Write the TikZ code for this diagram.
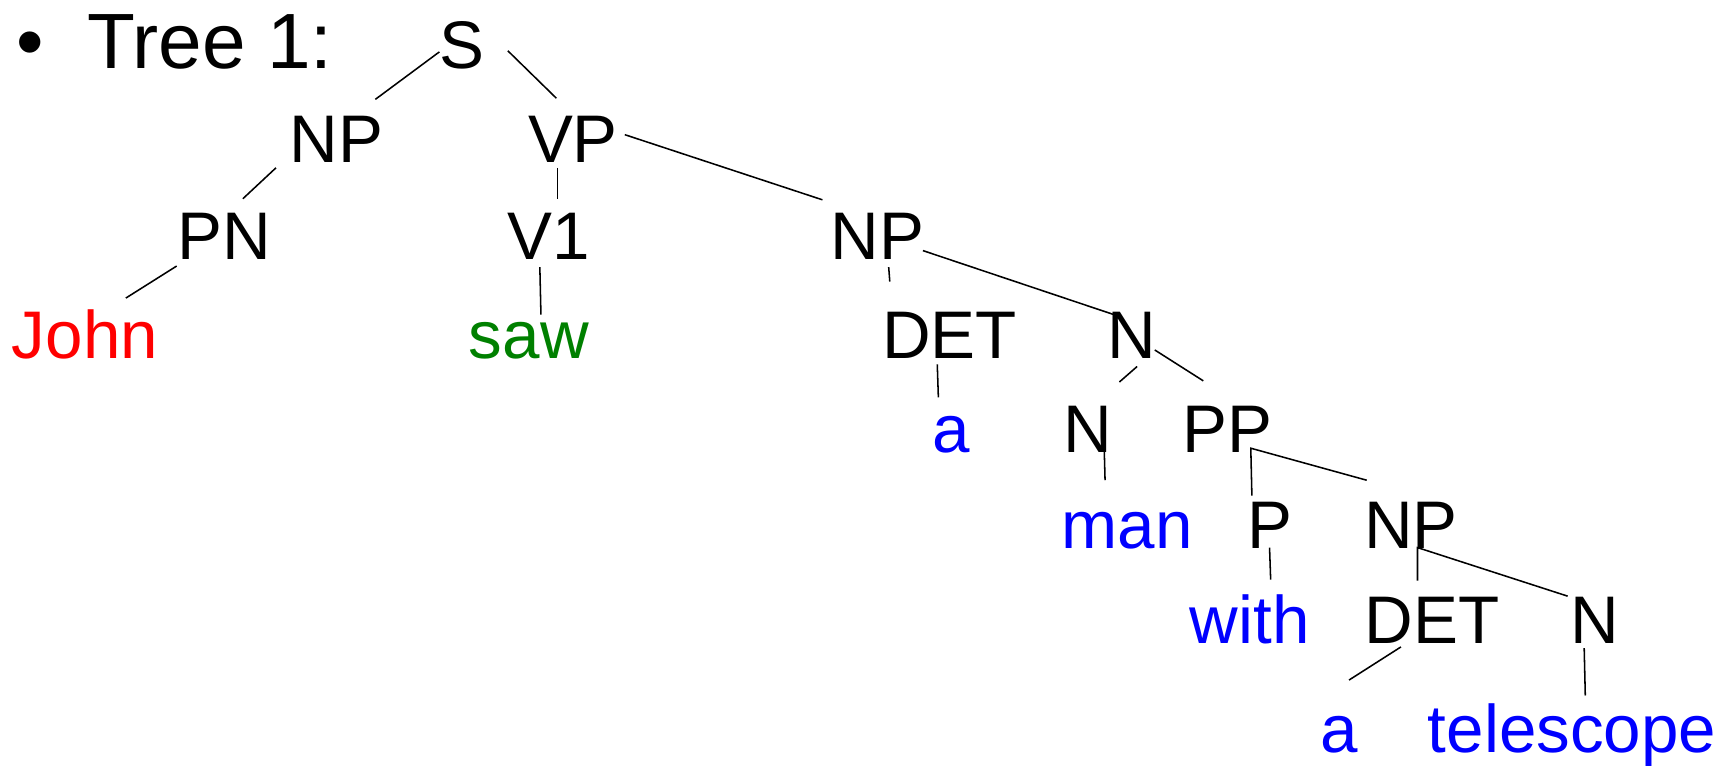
\documentclass[tikz,border=0pt]{standalone}
\usepackage{fontspec}
\setmainfont{Liberation Sans}
\definecolor{wred}{RGB}{255,0,0}
\definecolor{wgreen}{RGB}{0,128,0}
\definecolor{wblue}{RGB}{0,0,255}
\begin{document}
\begin{tikzpicture}[x=1pt,y=-1pt,
  cat/.style={anchor=base,inner sep=0pt,font=\fontsize{61}{72}\selectfont},
  word/.style={cat},
  title/.style={inner sep=0pt,font=\fontsize{71}{84}\selectfont},
  edge/.style={line width=1.4pt,black}]
\useasboundingbox (0,0) rectangle (1568,694);
% title
\node[title,anchor=base] (bul) at (27,62) {•};
\node[title,anchor=base west] (ttl) at (79,62) {Tree 1:};
% nodes
\node[cat] (S) at (418,62) {S};
\node[cat] (NPa) at (305,147) {NP};
\node[cat] (VP) at (519,147) {VP};
\node[cat] (PN) at (203,235) {PN};
\node[cat] (V1) at (497,235) {V1};
\node[cat] (NPb) at (795,235) {NP};
\node[word,text=wred] (John) at (77,325) {John};
\node[word,text=wgreen] (saw) at (479,325) {saw};
\node[cat] (DETa) at (860,325) {DET};
\node[cat] (Na) at (1025,325) {N};
\node[word,text=wblue] (wa) at (862,410) {a};
\node[cat] (Nb) at (985,410) {N};
\node[cat] (PP) at (1112,410) {PP};
\node[word,text=wblue] (man) at (1021,497) {man};
\node[cat] (P) at (1150,497) {P};
\node[cat] (NPc) at (1278,497) {NP};
\node[word,text=wblue] (with) at (1132,583) {with};
\node[cat] (DETb) at (1297,583) {DET};
\node[cat] (Nc) at (1445,583) {N};
\node[word,text=wblue] (wb) at (1213,682) {a};
\node[word,text=wblue] (tel) at (1424,682) {telescope};
% connector end points
\coordinate (s1a) at (398,47);  \coordinate (s1b) at (340,90);
\coordinate (s2a) at (460,46);  \coordinate (s2b) at (504,89);
\coordinate (v1a) at (566,122); \coordinate (v1b) at (745,181);
\coordinate (n1a) at (250,152); \coordinate (n1b) at (220,180);
\coordinate (v2a) at (505,152); \coordinate (v2b) at (505,180);
\coordinate (p1a) at (160,241); \coordinate (p1b) at (114,270);
\coordinate (q1a) at (489,242); \coordinate (q1b) at (490,285);
\coordinate (n2a) at (805,242); \coordinate (n2b) at (806,255);
\coordinate (n3a) at (836,227); \coordinate (n3b) at (1015,287);
\coordinate (d1a) at (849,330); \coordinate (d1b) at (850,360);
\coordinate (m1a) at (1030,332); \coordinate (m1b) at (1014,346);
\coordinate (m2a) at (1046,317); \coordinate (m2b) at (1090,345);
\coordinate (m3a) at (1000,398); \coordinate (m3b) at (1001,435);
\coordinate (pp0) at (1133,406); \coordinate (pp1) at (1134,449);
\coordinate (pp2) at (1238,435);
\coordinate (pw1) at (1150,496); \coordinate (pw2) at (1151,525);
\coordinate (nc0) at (1284,496); \coordinate (nc1) at (1284,526);
\coordinate (nc2) at (1420,540);
\coordinate (db1) at (1269,586); \coordinate (db2) at (1222,616);
\coordinate (tl1) at (1435,587); \coordinate (tl2) at (1436,630);
% connectors
\draw[edge] (s1a) -- (s1b);
\draw[edge] (s2a) -- (s2b);
\draw[edge] (v1a) -- (v1b);
\draw[edge] (n1a) -- (n1b);
\draw[edge] (v2a) -- (v2b);
\draw[edge] (p1a) -- (p1b);
\draw[edge] (q1a) -- (q1b);
\draw[edge] (n2a) -- (n2b);
\draw[edge] (n3a) -- (n3b);
\draw[edge] (d1a) -- (d1b);
\draw[edge] (m1a) -- (m1b);
\draw[edge] (m2a) -- (m2b);
\draw[edge] (m3a) -- (m3b);
\draw[edge] (pp1) -- (pp0) -- (pp2);
\draw[edge] (pw1) -- (pw2);
\draw[edge] (nc1) -- (nc0) -- (nc2);
\draw[edge] (db1) -- (db2);
\draw[edge] (tl1) -- (tl2);
\end{tikzpicture}
\end{document}
